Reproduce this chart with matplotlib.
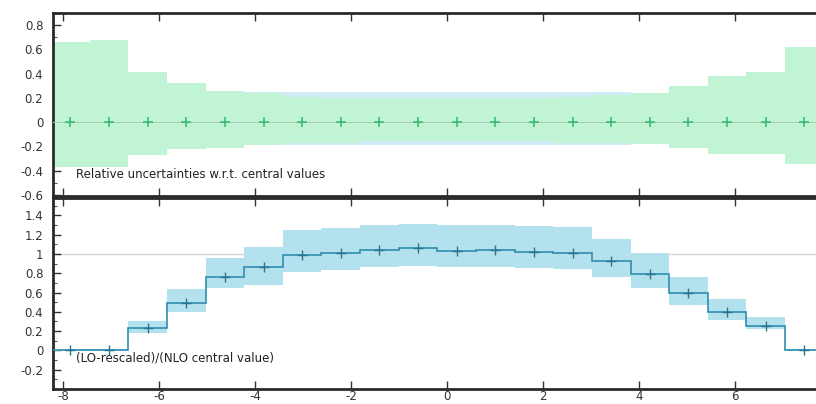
import matplotlib
matplotlib.use("Agg")
import matplotlib.pyplot as plt
import numpy as np
from matplotlib.ticker import MultipleLocator, FuncFormatter

# ---- data ----
bin_edges = [-8.25, -7.445, -6.64, -5.835, -5.03, -4.225, -3.42, -2.615, -1.81,
             -1.005, -0.2, 0.605, 1.41, 2.215, 3.02, 3.825, 4.63, 5.435, 6.24,
             7.045, 7.85]

# top panel: relative uncertainty bands
lo_rel_up = [0.66, 0.68, 0.41, 0.32, 0.26, 0.24, 0.21, 0.20, 0.20, 0.20,
             0.20, 0.20, 0.20, 0.21, 0.22, 0.24, 0.30, 0.38, 0.41, 0.62]
lo_rel_dn = [-0.37, -0.37, -0.27, -0.22, -0.21, -0.19, -0.17, -0.17, -0.16, -0.16,
             -0.16, -0.16, -0.16, -0.17, -0.17, -0.18, -0.21, -0.26, -0.26, -0.35]
nlo_rel_up = [0.55, 0.55, 0.35, 0.28, 0.25, 0.25, 0.25, 0.25, 0.25, 0.25,
              0.25, 0.25, 0.25, 0.25, 0.25, 0.24, 0.28, 0.35, 0.40, 0.50]
nlo_rel_dn = [-0.30, -0.30, -0.22, -0.20, -0.19, -0.19, -0.19, -0.19, -0.19, -0.19,
              -0.19, -0.19, -0.19, -0.19, -0.19, -0.17, -0.20, -0.24, -0.24, -0.30]
central_rel = [0.0] * 20

# bottom panel: (LO-rescaled)/(NLO central value)
ratio = [0.0, 0.0, 0.23, 0.49, 0.76, 0.86, 0.99, 1.01, 1.04, 1.06,
         1.03, 1.04, 1.02, 1.01, 0.93, 0.79, 0.60, 0.40, 0.25, 0.0]
ratio_up = [0.01, 0.01, 0.30, 0.64, 0.96, 1.07, 1.25, 1.27, 1.30, 1.31,
            1.30, 1.30, 1.29, 1.28, 1.16, 1.01, 0.76, 0.53, 0.35, 0.01]
ratio_dn = [-0.01, -0.01, 0.18, 0.40, 0.65, 0.68, 0.81, 0.83, 0.86, 0.87,
            0.86, 0.86, 0.85, 0.84, 0.76, 0.65, 0.47, 0.32, 0.22, -0.01]

x_ticks = [-8, -6, -4, -2, 0, 2, 4, 6]
top_yticks = [-0.6, -0.4, -0.2, 0, 0.2, 0.4, 0.6, 0.8]
bot_yticks = [-0.2, 0, 0.2, 0.4, 0.6, 0.8, 1, 1.2, 1.4]

plt.rcParams["font.family"] = "DejaVu Sans"
plt.rcParams["axes.unicode_minus"] = False

edges = np.array(bin_edges)
centers = 0.5 * (edges[:-1] + edges[1:])

fig = plt.figure(figsize=(8.16, 4.04), dpi=100)
ax_top = fig.add_axes([53 / 816, 1 - 196 / 404, 1 - 53 / 816, 183 / 404])
ax_bot = fig.add_axes([53 / 816, 1 - 389 / 404, 1 - 53 / 816, 191 / 404])

green_band = "#c0f4d5"
blue_band = "#d2ecf6"
ratio_band = "#b4e1ee"

# ---- top panel ----
ax_top.stairs(nlo_rel_up, edges, baseline=nlo_rel_dn, fill=True,
              color=blue_band, lw=0, zorder=1)
ax_top.stairs(lo_rel_up, edges, baseline=lo_rel_dn, fill=True,
              color=green_band, lw=0, zorder=2)
ax_top.axhline(0, color="#a9c9b2", lw=0.7, zorder=3)
ax_top.plot(centers, central_rel, "+", color="#34b870", ms=7, mew=1.1, zorder=4)
ax_top.text(0.030, 0.115, "Relative uncertainties w.r.t. central values",
            transform=ax_top.transAxes, fontsize=8.5, color="#222222",
            va="center", ha="left")
ax_top.set_ylim(-0.61, 0.9)

# ---- bottom panel ----
ax_bot.axhline(1, color="#d6d6d6", lw=1.0, zorder=1)
ax_bot.stairs(ratio_up, edges, baseline=ratio_dn, fill=True,
              color=ratio_band, lw=0, zorder=2)
ax_bot.stairs(ratio, edges, color="#2f8db0", lw=1.2, zorder=3)
ax_bot.plot(centers, ratio, "+", color="#2a7492", ms=7, mew=1.0, zorder=4)
ax_bot.text(0.030, 0.16, "(LO-rescaled)/(NLO central value)",
            transform=ax_bot.transAxes, fontsize=8.5, color="#222222",
            va="center", ha="left")
ax_bot.set_ylim(-0.40, 1.58)

fmt = FuncFormatter(lambda v, pos: "%g" % round(v, 2))
for ax, yt in ((ax_top, top_yticks), (ax_bot, bot_yticks)):
    ax.set_xlim(-8.21, 7.69)
    ax.set_xticks(x_ticks)
    ax.set_yticks(yt)
    ax.yaxis.set_major_formatter(fmt)
    ax.yaxis.set_minor_locator(MultipleLocator(0.1))
    ax.tick_params(axis="both", which="major", direction="in", length=6,
                   width=1.0, color="#333333", labelsize=8.5,
                   labelcolor="#333333")
    ax.tick_params(axis="y", which="major", pad=7)
    ax.tick_params(axis="y", which="minor", direction="in", length=3,
                   width=0.8, color="#555555")
    ax.tick_params(axis="x", top=True, bottom=True, pad=1)
    for side in ("top", "bottom", "left"):
        ax.spines[side].set_linewidth(2.0)
        ax.spines[side].set_color("#2a2a2a")
    ax.spines["right"].set_visible(False)

ax_top.tick_params(axis="x", labelbottom=False)

fig.savefig("out.png", dpi=100)
plt.close(fig)
